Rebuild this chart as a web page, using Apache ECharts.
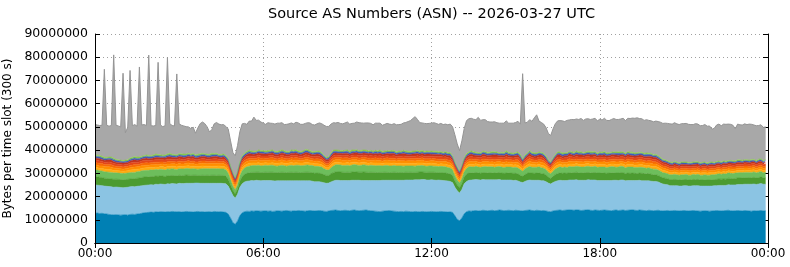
<!DOCTYPE html>
<html>
<head>
<meta charset="utf-8">
<script src="https://cdn.jsdelivr.net/npm/echarts@6/dist/echarts.min.js"></script>
<style>html,body{margin:0;padding:0;background:#fff}#c{width:790px;height:267px}</style>
</head>
<body>
<div id="c"></div>
<script>
// Time slots: 5-minute (300 s) slots; 289 category positions so that the last one is the closing 00:00
const slotLabels = Array.from({length: 289}, (_, i) => {
  const m = (i * 5) % 1440;
  return String(Math.floor(m / 60)).padStart(2, '0') + ':' + String(m % 60).padStart(2, '0');
});
const xTickLabels = ['00:00', '06:00', '12:00', '18:00', '00:00'];
const yTicks = [0, 10000000, 20000000, 30000000, 40000000, 50000000, 60000000, 70000000, 80000000, 90000000];
const UNIT = 1e6; // values below are in millions of bytes per slot

const darkBlue = [
12.8,12.9,12.7,12.8,12.6,12.5,12.3,12.2,12.1,12.2,12.1,12.0,
12.1,12.2,12.0,12.3,12.4,12.3,12.5,12.6,12.8,13.0,13.1,13.2,
13.3,13.2,13.4,13.3,13.5,13.4,13.3,13.5,13.4,13.6,13.5,13.4,
13.5,13.3,13.4,13.6,13.5,13.4,13.3,13.5,13.6,13.4,13.5,13.3,
13.4,13.5,13.3,13.6,13.5,13.4,13.5,13.3,13.2,12.5,10.8,8.8,
8.1,9.5,11.8,13.0,13.5,13.7,13.6,13.8,13.7,13.9,13.8,13.7,
13.8,13.9,13.7,13.8,13.6,13.7,13.9,13.8,13.7,13.9,14.0,13.8,
13.7,13.9,13.8,14.0,13.9,13.8,13.7,13.9,14.0,13.9,13.8,13.9,
14.0,13.9,13.7,13.6,13.8,14.0,14.1,14.2,14.0,13.9,14.0,14.1,
14.0,13.9,14.1,14.2,14.0,13.9,14.0,14.1,14.2,14.0,13.9,13.8,
13.7,13.6,13.5,13.7,13.8,13.9,14.0,13.8,13.7,13.6,13.5,13.6,
13.5,13.7,13.6,13.5,13.4,13.6,13.5,13.4,13.6,13.5,13.4,13.5,
13.6,13.5,13.4,13.5,13.6,13.5,13.4,13.3,13.4,13.2,11.8,10.2,
9.6,10.8,12.6,13.5,13.8,13.7,13.9,14.0,13.8,13.9,14.1,14.0,
13.9,14.0,14.1,13.9,14.0,14.2,14.1,13.9,14.0,14.1,14.0,13.9,
14.1,14.0,13.9,13.8,14.0,14.1,14.2,14.0,13.9,14.1,14.0,13.9,
14.0,13.8,13.6,13.5,13.8,14.0,14.1,14.2,14.0,14.1,14.2,14.3,
14.2,14.1,14.3,14.2,14.0,14.1,14.2,14.3,14.1,14.0,14.2,14.1,
14.0,14.1,14.2,14.1,14.0,13.9,14.1,14.2,14.0,14.1,14.2,14.0,
14.1,14.2,14.3,14.1,14.0,14.2,14.1,14.0,13.9,14.1,14.0,13.9,
14.0,14.1,13.9,13.8,13.9,14.0,13.8,13.9,14.0,13.9,13.8,13.9,
14.0,13.9,13.8,13.9,14.0,13.9,13.8,13.7,13.8,13.9,13.8,13.7,
13.8,13.9,14.0,13.9,13.8,13.9,14.0,14.1,13.9,13.8,13.9,14.0,
13.9,13.8,14.0,13.9,13.8,13.7,13.9,13.8,13.9,14.0,13.8,13.9];

const lightBlue = [
12.2,12.0,12.1,11.9,11.9,11.9,12.0,12.0,11.9,11.9,11.9,11.9,
11.7,11.7,12.0,11.9,11.9,11.9,11.9,11.9,11.8,11.8,11.8,11.8,
11.8,11.8,11.9,11.9,11.9,11.9,11.9,12.0,12.0,12.0,12.0,12.0,
12.2,12.3,12.2,12.1,12.2,12.3,12.4,12.3,12.2,12.3,12.2,12.4,
12.3,12.2,12.4,12.1,12.2,12.3,12.2,12.3,12.3,12.0,11.7,11.7,
11.2,11.5,12.2,12.5,12.8,12.9,13.1,13.1,13.1,13.1,13.1,13.1,
13.1,13.0,13.2,13.1,13.2,13.0,12.9,13.0,13.1,12.9,12.8,13.0,
13.1,12.9,13.0,12.8,12.9,13.0,13.1,12.9,12.8,12.7,12.6,12.5,
12.4,12.3,12.2,12.1,12.0,12.3,12.6,12.8,13.0,13.0,12.9,12.8,
12.9,13.0,12.9,12.8,13.0,13.1,12.9,12.8,12.7,12.9,13.0,13.1,
13.2,13.3,13.4,13.3,13.2,13.1,13.0,13.2,13.3,13.4,13.5,13.4,
13.5,13.4,13.5,13.6,13.7,13.6,13.7,13.8,13.7,13.8,13.7,13.6,
13.6,13.6,13.6,13.6,13.4,13.4,13.4,13.4,13.1,12.8,12.2,12.3,
11.9,12.2,12.9,13.0,13.2,13.4,13.3,13.3,13.4,13.2,13.2,13.2,
13.3,13.2,13.1,13.3,13.2,13.1,13.0,13.2,13.1,13.0,13.1,13.0,
12.9,12.7,12.4,12.2,12.5,12.8,12.9,13.0,13.1,12.9,13.0,12.9,
12.8,12.6,12.2,11.9,12.2,12.5,12.7,12.8,12.9,12.8,12.7,12.8,
12.9,13.0,12.9,12.8,13.0,12.9,12.8,12.9,13.0,13.1,12.9,12.8,
12.9,12.8,12.7,12.8,12.9,13.0,12.9,12.8,12.9,13.0,12.9,12.8,
12.8,12.7,12.6,12.8,12.9,12.8,12.7,12.8,12.9,12.7,12.6,12.6,
12.5,12.2,11.9,11.6,11.3,11.1,10.9,10.8,10.7,10.8,10.7,10.6,
10.7,10.8,10.7,10.6,10.7,10.8,10.9,10.8,10.7,10.6,10.7,10.8,
10.7,10.8,10.7,10.9,11.0,10.9,10.8,11.0,11.1,11.2,11.1,11.2,
11.3,11.4,11.3,11.4,11.5,11.6,11.5,11.4,11.5,11.6,11.5,11.4];

const darkGreen = [
3.6,3.6,3.5,3.5,3.4,3.4,3.4,3.4,3.4,3.4,3.4,3.4,
3.4,3.4,3.4,3.4,3.4,3.5,3.5,3.5,3.6,3.6,3.5,3.5,
3.5,3.6,3.5,3.5,3.6,3.5,3.4,3.5,3.6,3.5,3.5,3.4,
3.5,3.4,3.5,3.6,3.5,3.4,3.5,3.4,3.3,3.4,3.5,3.4,
3.5,3.4,3.5,3.5,3.4,3.5,3.4,3.5,3.3,3.0,2.6,2.1,
1.8,2.1,2.7,3.1,3.3,3.4,3.5,3.5,3.6,3.5,3.6,3.5,
3.5,3.6,3.5,3.6,3.7,3.6,3.5,3.6,3.7,3.6,3.5,3.6,
3.7,3.6,3.7,3.6,3.5,3.6,3.7,3.7,3.6,3.7,3.6,3.7,
3.6,3.7,3.5,3.4,3.3,3.5,3.6,3.7,3.6,3.7,3.6,3.5,
3.6,3.5,3.6,3.7,3.6,3.5,3.6,3.7,3.6,3.5,3.6,3.5,
3.5,3.4,3.5,3.4,3.5,3.4,3.3,3.4,3.5,3.4,3.3,3.4,
3.3,3.4,3.3,3.4,3.3,3.2,3.3,3.4,3.3,3.2,3.3,3.4,
3.3,3.4,3.3,3.2,3.3,3.4,3.3,3.2,3.3,3.1,2.8,2.5,
2.3,2.6,2.9,3.1,3.2,3.1,3.0,3.1,3.0,2.9,3.0,3.1,
3.0,3.1,3.0,2.9,3.0,3.1,3.0,2.9,3.0,3.1,3.0,3.1,
3.0,3.1,2.9,2.7,3.0,3.1,3.2,3.1,3.0,3.1,3.2,3.1,
3.0,2.9,2.6,2.4,2.7,3.0,3.1,3.2,3.1,3.2,3.1,3.2,
3.1,3.2,3.3,3.2,3.1,3.2,3.3,3.2,3.1,3.2,3.3,3.2,
3.2,3.3,3.2,3.1,3.2,3.3,3.2,3.1,3.2,3.3,3.2,3.1,
3.2,3.1,3.2,3.1,3.0,3.1,3.2,3.1,3.0,3.1,3.0,2.9,
2.9,2.8,2.8,2.7,2.7,2.6,2.6,2.6,2.7,2.6,2.6,2.7,
2.6,2.7,2.6,2.6,2.7,2.6,2.7,2.6,2.6,2.7,2.6,2.6,
2.7,2.6,2.7,2.8,2.7,2.8,2.7,2.8,2.8,2.7,2.8,2.8,
2.8,2.9,2.8,2.8,2.9,2.8,2.9,2.8,2.8,2.9,2.8,2.8];

const lightGreen = [
2.9,2.9,2.8,2.8,2.8,2.8,2.8,2.8,2.8,2.7,2.7,2.7,
2.7,2.7,2.7,2.7,2.7,2.7,2.8,2.8,2.9,2.8,2.9,2.8,
2.9,2.8,2.9,2.8,2.8,2.9,2.8,2.9,2.8,2.9,2.8,2.8,
2.8,2.9,2.8,2.8,2.9,2.8,2.8,2.7,2.7,2.8,2.8,2.9,
2.8,2.9,2.8,2.8,2.9,2.8,2.8,2.8,2.7,2.6,2.3,2.0,
1.8,2.0,2.4,2.6,2.7,2.8,2.9,2.9,3.0,2.9,3.0,2.9,
2.9,3.0,2.9,3.0,3.0,2.9,2.8,2.9,3.0,2.9,2.8,2.9,
3.0,2.9,3.0,3.1,3.0,2.9,3.0,3.1,3.0,3.1,3.0,2.9,
2.9,2.8,2.6,2.4,2.3,2.6,2.9,3.0,3.1,3.0,2.9,3.0,
3.0,2.9,3.0,3.1,3.0,2.9,3.0,3.1,3.0,2.9,3.0,3.0,
2.9,3.0,2.9,2.8,2.9,3.0,2.9,2.8,2.9,2.8,2.9,2.8,
2.8,2.7,2.8,2.7,2.8,2.7,2.8,2.7,2.8,2.7,2.6,2.7,
2.7,2.6,2.7,2.6,2.7,2.6,2.7,2.6,2.5,2.5,2.3,2.1,
2.0,2.2,2.4,2.5,2.6,2.6,2.5,2.6,2.5,2.6,2.5,2.6,
2.6,2.5,2.6,2.5,2.6,2.5,2.6,2.5,2.6,2.5,2.6,2.5,
2.6,2.5,2.4,2.2,2.4,2.5,2.6,2.5,2.6,2.5,2.6,2.5,
2.4,2.3,2.1,2.0,2.2,2.4,2.5,2.6,2.5,2.6,2.5,2.6,
2.6,2.5,2.6,2.7,2.6,2.5,2.6,2.7,2.6,2.5,2.6,2.5,
2.6,2.5,2.6,2.5,2.6,2.7,2.6,2.5,2.6,2.7,2.6,2.5,
2.6,2.7,2.6,2.5,2.6,2.5,2.6,2.5,2.4,2.5,2.4,2.4,
2.4,2.3,2.3,2.2,2.2,2.1,2.1,2.1,2.2,2.1,2.1,2.2,
2.1,2.2,2.1,2.1,2.2,2.1,2.2,2.1,2.1,2.2,2.1,2.1,
2.2,2.1,2.2,2.2,2.1,2.2,2.2,2.3,2.2,2.2,2.3,2.2,
2.3,2.2,2.3,2.3,2.2,2.3,2.3,2.2,2.3,2.3,2.2,2.3];

const yellowOrange = [
1.1,1.1,1.0,1.1,1.2,1.1,1.1,1.1,1.0,1.0,1.0,1.0,
1.0,1.0,1.0,1.1,1.1,1.2,1.1,1.1,1.0,1.1,1.1,1.2,
1.1,1.1,1.0,1.1,1.1,1.2,1.1,1.0,1.1,1.1,1.2,1.1,
1.1,1.0,1.1,1.1,1.2,1.1,1.1,1.0,1.1,1.1,1.2,1.1,
1.1,1.1,1.0,1.1,1.1,1.2,1.1,1.1,1.1,1.1,1.0,1.0,
0.9,1.0,1.0,1.1,1.1,1.1,1.2,1.1,1.1,1.0,1.1,1.1,
1.2,1.1,1.1,1.0,1.1,1.1,1.2,1.1,1.1,1.0,1.1,1.1,
1.2,1.1,1.1,1.0,1.1,1.1,1.2,1.1,1.1,1.0,1.1,1.1,
1.1,1.0,1.0,0.9,1.0,1.1,1.2,1.1,1.1,1.0,1.1,1.1,
1.2,1.1,1.1,1.0,1.1,1.1,1.2,1.1,1.1,1.0,1.1,1.1,
1.2,1.1,1.1,1.0,1.1,1.1,1.2,1.1,1.1,1.0,1.1,1.1,
1.2,1.1,1.1,1.0,1.1,1.1,1.2,1.1,1.1,1.0,1.1,1.1,
1.2,1.1,1.1,1.0,1.1,1.1,1.2,1.1,1.1,1.0,1.0,1.0,
0.9,1.0,1.0,1.1,1.1,1.1,1.2,1.1,1.1,1.0,1.1,1.1,
1.2,1.1,1.1,1.0,1.1,1.1,1.2,1.1,1.1,1.0,1.1,1.1,
1.1,1.2,1.1,0.9,1.0,1.1,1.2,1.1,1.1,1.0,1.1,1.1,
1.1,1.0,0.9,0.9,1.0,1.1,1.2,1.1,1.1,1.0,1.1,1.1,
1.2,1.1,1.1,1.0,1.1,1.1,1.2,1.1,1.1,1.0,1.1,1.1,
1.2,1.1,1.1,1.0,1.1,1.1,1.2,1.1,1.1,1.0,1.1,1.1,
1.2,1.1,1.1,1.0,1.1,1.1,1.2,1.1,1.1,1.0,1.1,1.1,
1.1,1.1,1.0,1.0,1.0,1.0,0.9,0.9,1.0,0.9,0.9,1.0,
0.9,0.9,1.0,0.9,0.9,1.0,0.9,0.9,1.0,0.9,0.9,1.0,
0.9,0.9,1.0,0.9,0.9,1.0,0.9,0.9,1.0,0.9,0.9,1.0,
0.9,0.9,1.0,0.9,0.9,1.0,0.9,0.9,1.0,0.9,0.9,1.0];

const orange = [
1.1,1.0,1.1,1.1,1.0,1.1,1.2,1.1,1.1,1.0,1.0,1.0,
0.9,1.0,1.0,1.0,1.1,1.1,1.0,1.1,1.2,1.1,1.1,1.0,
1.1,1.2,1.1,1.1,1.0,1.1,1.2,1.1,1.1,1.0,1.1,1.2,
1.1,1.1,1.0,1.1,1.2,1.1,1.1,1.0,1.1,1.2,1.1,1.1,
1.0,1.1,1.2,1.1,1.1,1.0,1.1,1.2,1.0,1.1,1.0,1.0,
0.9,1.0,1.0,1.1,1.1,1.2,1.1,1.1,1.0,1.1,1.2,1.1,
1.1,1.0,1.1,1.2,1.1,1.1,1.0,1.1,1.2,1.1,1.1,1.0,
1.1,1.2,1.1,1.1,1.0,1.1,1.2,1.1,1.1,1.0,1.1,1.2,
1.1,1.1,1.0,0.9,1.0,1.1,1.1,1.0,1.1,1.2,1.1,1.1,
1.0,1.1,1.2,1.1,1.1,1.0,1.1,1.2,1.1,1.1,1.0,1.1,
1.2,1.1,1.1,1.0,1.1,1.2,1.1,1.1,1.0,1.1,1.2,1.1,
1.1,1.0,1.1,1.2,1.1,1.1,1.0,1.1,1.2,1.1,1.1,1.0,
1.1,1.2,1.1,1.1,1.0,1.1,1.2,1.1,1.1,1.0,1.0,1.0,
0.9,1.0,1.0,1.1,1.1,1.2,1.1,1.1,1.0,1.1,1.2,1.1,
1.1,1.0,1.1,1.2,1.1,1.1,1.0,1.1,1.2,1.1,1.1,1.0,
1.1,1.2,1.1,0.9,1.0,1.1,1.2,1.1,1.1,1.0,1.1,1.2,
1.1,1.0,0.9,0.9,1.0,1.1,1.2,1.1,1.1,1.0,1.1,1.2,
1.1,1.1,1.0,1.1,1.2,1.1,1.1,1.0,1.1,1.2,1.1,1.1,
1.0,1.1,1.2,1.1,1.1,1.0,1.1,1.2,1.1,1.1,1.0,1.1,
1.2,1.1,1.1,1.0,1.1,1.2,1.1,1.1,1.0,1.1,1.2,1.1,
1.1,1.0,1.0,1.0,1.0,0.9,1.0,0.9,0.9,1.0,0.9,0.9,
1.0,0.9,0.9,1.0,0.9,0.9,1.0,0.9,0.9,1.0,0.9,0.9,
1.0,0.9,0.9,1.0,0.9,0.9,1.0,0.9,0.9,1.0,0.9,0.9,
1.0,0.9,0.9,1.0,0.9,0.9,1.0,0.9,0.9,1.0,0.9,0.9];

const darkOrange = [
1.0,1.0,1.1,1.0,0.9,1.0,1.0,1.1,1.0,0.9,0.9,0.9,
0.9,0.9,0.9,1.0,1.0,1.1,1.0,0.9,1.0,1.0,1.1,1.0,
0.9,1.0,1.0,1.1,1.0,0.9,1.0,1.0,1.1,1.0,0.9,1.0,
1.0,1.1,1.0,0.9,1.0,1.0,1.1,1.0,0.9,1.0,1.0,1.1,
1.0,0.9,1.0,1.0,1.1,1.0,0.9,1.0,0.9,1.0,0.9,0.9,
0.8,0.9,0.9,1.0,1.0,1.0,1.1,1.0,0.9,1.0,1.0,1.1,
1.0,0.9,1.0,1.0,1.1,1.0,0.9,1.0,1.0,1.1,1.0,0.9,
1.0,1.0,1.1,1.0,0.9,1.0,1.0,1.1,1.0,0.9,1.0,1.0,
1.1,1.0,0.9,0.8,0.9,1.0,1.1,1.0,0.9,1.0,1.0,1.1,
1.0,0.9,1.0,1.0,1.1,1.0,0.9,1.0,1.0,1.1,1.0,0.9,
1.0,1.0,1.1,1.0,0.9,1.0,1.0,1.1,1.0,0.9,1.0,1.0,
1.1,1.0,0.9,1.0,1.0,1.1,1.0,0.9,1.0,1.0,1.1,1.0,
0.9,1.0,1.0,1.1,1.0,0.9,1.0,1.0,1.1,0.9,0.9,0.9,
0.8,0.9,0.9,1.0,1.0,1.1,1.0,0.9,1.0,1.0,1.1,1.0,
0.9,1.0,1.0,1.1,1.0,0.9,1.0,1.0,1.1,1.0,0.9,1.0,
1.0,1.1,1.0,0.8,0.9,1.0,1.1,1.0,0.9,1.0,1.0,1.1,
1.0,0.9,0.8,0.8,0.9,1.0,1.1,1.0,0.9,1.0,1.0,1.1,
1.0,0.9,1.0,1.0,1.1,1.0,0.9,1.0,1.0,1.1,1.0,0.9,
1.0,1.0,1.1,1.0,0.9,1.0,1.0,1.1,1.0,0.9,1.0,1.0,
1.1,1.0,0.9,1.0,1.0,1.1,1.0,0.9,1.0,1.0,1.1,1.0,
1.0,1.0,0.9,0.9,0.9,0.9,0.9,0.8,0.9,0.9,0.8,0.9,
0.9,0.8,0.9,0.9,0.8,0.9,0.9,0.8,0.9,0.9,0.8,0.9,
0.9,0.8,0.9,0.9,0.8,0.9,0.9,0.8,0.9,0.9,0.8,0.9,
0.9,0.8,0.9,0.9,0.8,0.9,0.9,0.8,0.9,0.9,0.8,0.9];

const red = [
1.0,1.1,1.0,0.9,1.0,1.0,1.1,1.0,0.9,0.9,0.9,0.9,
0.9,0.9,0.9,1.0,1.1,1.0,0.9,1.0,1.0,1.1,1.0,0.9,
1.0,1.0,1.1,1.0,0.9,1.0,1.0,1.1,1.0,0.9,1.0,1.0,
1.1,1.0,0.9,1.0,1.0,1.1,1.0,0.9,1.0,1.0,1.1,1.0,
0.9,1.0,1.0,1.1,1.0,0.9,1.0,1.0,1.0,1.0,0.9,0.9,
0.8,0.9,0.9,1.0,1.0,1.1,1.0,0.9,1.0,1.0,1.1,1.0,
0.9,1.0,1.0,1.1,1.0,0.9,1.0,1.0,1.1,1.0,0.9,1.0,
1.0,1.1,1.0,0.9,1.0,1.0,1.1,1.0,0.9,1.0,1.0,1.1,
1.0,0.9,0.9,0.9,0.9,1.0,1.0,1.1,1.0,0.9,1.0,1.0,
1.1,1.0,0.9,1.0,1.0,1.1,1.0,0.9,1.0,1.0,1.1,1.0,
0.9,1.0,1.0,1.1,1.0,0.9,1.0,1.0,1.1,1.0,0.9,1.0,
1.0,1.1,1.0,0.9,1.0,1.0,1.1,1.0,0.9,1.0,1.0,1.1,
1.0,0.9,1.0,1.0,1.1,1.0,0.9,1.0,1.0,1.0,0.9,0.9,
0.8,0.9,0.9,1.0,1.0,1.1,1.0,0.9,1.0,1.0,1.1,1.0,
0.9,1.0,1.0,1.1,1.0,0.9,1.0,1.0,1.1,1.0,0.9,1.0,
1.0,1.1,1.0,0.8,1.0,1.0,1.1,1.0,0.9,1.0,1.0,1.1,
1.0,0.9,0.8,0.8,0.9,1.0,1.1,1.0,0.9,1.0,1.0,1.1,
1.0,1.0,1.1,1.0,0.9,1.0,1.0,1.1,1.0,0.9,1.0,1.0,
1.1,1.0,0.9,1.0,1.0,1.1,1.0,0.9,1.0,1.0,1.1,1.0,
0.9,1.0,1.0,1.1,1.0,0.9,1.0,1.0,1.1,1.0,0.9,1.0,
1.0,0.9,1.0,0.9,0.9,0.9,0.8,0.9,0.9,0.8,0.9,0.9,
0.8,0.9,0.9,0.8,0.9,0.9,0.8,0.9,0.9,0.8,0.9,0.9,
0.8,0.9,0.9,0.8,0.9,0.9,0.8,0.9,0.9,0.8,0.9,0.9,
0.8,0.9,0.9,0.8,0.9,0.9,0.8,0.9,0.9,0.8,0.9,0.9];

const darkRed = [
0.9,0.9,1.0,0.9,0.8,0.9,0.9,1.0,0.9,0.8,0.8,0.8,
0.8,0.8,0.8,0.9,0.9,1.0,0.9,0.8,0.9,0.9,1.0,0.9,
0.8,0.9,0.9,1.0,0.9,0.8,0.9,0.9,1.0,0.9,0.8,0.9,
0.9,1.0,0.9,0.8,0.9,0.9,1.0,0.9,0.8,0.9,0.9,1.0,
0.9,0.8,0.9,0.9,1.0,0.9,0.8,0.9,0.9,0.9,0.8,0.8,
0.7,0.8,0.8,0.9,0.9,0.9,1.0,0.9,0.8,0.9,0.9,1.0,
0.9,0.8,0.9,0.9,1.0,0.9,0.8,0.9,0.9,1.0,0.9,0.8,
0.9,0.9,1.0,0.9,0.8,0.9,0.9,1.0,0.9,0.8,0.9,0.9,
1.0,0.9,0.8,0.8,0.8,0.9,1.0,0.9,0.8,0.9,0.9,1.0,
0.9,0.8,0.9,0.9,1.0,0.9,0.8,0.9,0.9,1.0,0.9,0.8,
0.9,0.9,1.0,0.9,0.8,0.9,0.9,1.0,0.9,0.8,0.9,0.9,
1.0,0.9,0.8,0.9,0.9,1.0,0.9,0.8,0.9,0.9,1.0,0.9,
0.8,0.9,0.9,1.0,0.9,0.8,0.9,0.9,1.0,0.8,0.8,0.8,
0.7,0.8,0.8,0.9,0.9,1.0,0.9,0.8,0.9,0.9,1.0,0.9,
0.8,0.9,0.9,1.0,0.9,0.8,0.9,0.9,1.0,0.9,0.8,0.9,
0.9,1.0,0.9,0.7,0.8,0.9,1.0,0.9,0.8,0.9,0.9,1.0,
0.9,0.8,0.7,0.7,0.8,0.9,1.0,0.9,0.8,0.9,0.9,1.0,
0.9,0.8,0.9,0.9,1.0,0.9,0.8,0.9,0.9,1.0,0.9,0.8,
0.9,0.9,1.0,0.9,0.8,0.9,0.9,1.0,0.9,0.8,0.9,0.9,
1.0,0.9,0.8,0.9,0.9,1.0,0.9,0.8,0.9,0.9,1.0,0.9,
0.9,0.9,0.8,0.8,0.8,0.8,0.8,0.7,0.8,0.8,0.7,0.8,
0.8,0.7,0.8,0.8,0.7,0.8,0.8,0.7,0.8,0.8,0.7,0.8,
0.8,0.7,0.8,0.8,0.7,0.8,0.8,0.7,0.8,0.8,0.7,0.8,
0.8,0.7,0.8,0.8,0.7,0.8,0.8,0.7,0.8,0.8,0.7,0.8];

const blue = [
0.7,0.7,0.8,0.7,0.7,0.6,0.7,0.7,0.8,0.7,0.6,0.6,
0.6,0.6,0.6,0.7,0.7,0.8,0.7,0.7,0.6,0.7,0.7,0.8,
0.7,0.7,0.8,0.7,0.7,0.6,0.7,0.7,0.8,0.7,0.7,0.6,
0.7,0.7,0.8,0.7,0.7,0.6,0.7,0.7,0.8,0.7,0.7,0.6,
0.7,0.7,0.8,0.7,0.7,0.6,0.7,0.7,0.7,0.7,0.6,0.6,
0.6,0.6,0.7,0.7,0.7,0.7,0.8,0.7,0.7,0.6,0.7,0.7,
0.8,0.7,0.7,0.6,0.7,0.7,0.8,0.7,0.7,0.6,0.7,0.7,
0.8,0.7,0.7,0.6,0.7,0.7,0.8,0.7,0.7,0.6,0.7,0.7,
0.8,0.7,0.6,0.6,0.6,0.7,0.8,0.7,0.7,0.6,0.7,0.7,
0.8,0.7,0.7,0.6,0.7,0.7,0.8,0.7,0.7,0.6,0.7,0.7,
0.8,0.7,0.7,0.6,0.7,0.7,0.8,0.7,0.7,0.6,0.7,0.7,
0.8,0.7,0.7,0.6,0.7,0.7,0.8,0.7,0.7,0.6,0.7,0.7,
0.8,0.7,0.7,0.6,0.7,0.7,0.8,0.7,0.7,0.7,0.6,0.6,
0.6,0.6,0.7,0.7,0.7,0.8,0.7,0.7,0.6,0.7,0.7,0.8,
0.7,0.7,0.8,0.7,0.7,0.6,0.7,0.7,0.8,0.7,0.7,0.6,
0.7,0.7,0.8,0.6,0.7,0.6,0.7,0.7,0.8,0.7,0.7,0.6,
0.7,0.7,0.6,0.6,0.6,0.6,0.7,0.7,0.8,0.7,0.7,0.6,
0.7,0.7,0.8,0.7,0.7,0.6,0.7,0.7,0.8,0.7,0.7,0.6,
0.7,0.7,0.8,0.7,0.7,0.6,0.7,0.7,0.8,0.7,0.7,0.6,
0.7,0.7,0.8,0.7,0.7,0.6,0.7,0.7,0.8,0.7,0.7,0.6,
0.7,0.7,0.7,0.6,0.6,0.6,0.6,0.6,0.6,0.5,0.6,0.6,
0.6,0.6,0.5,0.6,0.6,0.6,0.5,0.6,0.6,0.6,0.5,0.6,
0.6,0.6,0.5,0.6,0.6,0.6,0.5,0.6,0.6,0.6,0.5,0.6,
0.6,0.6,0.5,0.6,0.6,0.6,0.5,0.6,0.6,0.6,0.5,0.6];

const yellowGreen = [
0.6,0.6,0.6,0.7,0.6,0.6,0.5,0.6,0.6,0.5,0.5,0.5,
0.5,0.5,0.5,0.6,0.6,0.6,0.7,0.6,0.6,0.5,0.6,0.6,
0.6,0.6,0.7,0.6,0.6,0.5,0.6,0.6,0.7,0.6,0.6,0.5,
0.6,0.6,0.7,0.6,0.6,0.5,0.6,0.6,0.7,0.6,0.6,0.5,
0.6,0.6,0.7,0.6,0.6,0.5,0.6,0.6,0.6,0.6,0.5,0.5,
0.5,0.5,0.6,0.6,0.6,0.6,0.7,0.6,0.6,0.5,0.6,0.6,
0.6,0.6,0.7,0.6,0.6,0.5,0.6,0.6,0.7,0.6,0.6,0.5,
0.6,0.6,0.7,0.6,0.6,0.5,0.6,0.6,0.7,0.6,0.6,0.5,
0.6,0.6,0.5,0.5,0.5,0.6,0.6,0.6,0.7,0.6,0.6,0.5,
0.6,0.6,0.7,0.6,0.6,0.5,0.6,0.6,0.7,0.6,0.6,0.5,
0.6,0.6,0.7,0.6,0.6,0.5,0.6,0.6,0.7,0.6,0.6,0.5,
0.6,0.6,0.7,0.6,0.6,0.5,0.6,0.6,0.7,0.6,0.6,0.5,
0.6,0.6,0.7,0.6,0.6,0.5,0.6,0.6,0.7,0.6,0.5,0.5,
0.5,0.5,0.6,0.6,0.6,0.6,0.7,0.6,0.6,0.5,0.6,0.6,
0.6,0.6,0.7,0.6,0.6,0.5,0.6,0.6,0.7,0.6,0.6,0.5,
0.6,0.6,0.7,0.5,0.6,0.5,0.6,0.6,0.7,0.6,0.6,0.5,
0.6,0.6,0.5,0.5,0.5,0.5,0.6,0.6,0.7,0.6,0.6,0.5,
0.6,0.6,0.7,0.6,0.6,0.5,0.6,0.6,0.7,0.6,0.6,0.5,
0.6,0.6,0.7,0.6,0.6,0.5,0.6,0.6,0.7,0.6,0.6,0.5,
0.6,0.6,0.7,0.6,0.6,0.5,0.6,0.6,0.7,0.6,0.6,0.5,
0.6,0.6,0.6,0.5,0.5,0.5,0.5,0.5,0.5,0.5,0.5,0.5,
0.5,0.5,0.5,0.5,0.5,0.5,0.5,0.5,0.5,0.5,0.5,0.5,
0.5,0.5,0.5,0.5,0.5,0.5,0.5,0.5,0.5,0.5,0.5,0.5,
0.5,0.5,0.5,0.5,0.5,0.5,0.5,0.5,0.5,0.5,0.5,0.5];

const others = [
13.1,13.0,12.9,13.3,37.9,13.8,13.3,13.6,44.5,14.7,14.6,14.3,
37.6,11.8,14.0,37.7,13.6,13.8,13.3,38.8,13.4,13.4,12.7,43.2,
12.8,12.5,12.3,39.7,12.8,12.3,12.6,41.6,12.8,12.4,12.3,34.9,
12.8,12.3,12.1,11.8,11.3,11.1,11.3,9.3,11.3,13.0,13.5,13.0,
11.8,9.6,10.3,12.8,13.3,13.1,12.8,12.6,12.5,12.6,10.9,8.7,
9.4,11.2,13.0,13.7,12.8,11.7,12.5,12.9,14.7,13.3,12.8,12.3,
11.8,11.5,12.0,11.7,11.4,11.8,12.2,11.9,11.6,11.3,11.7,12.0,
11.6,11.4,11.8,12.1,11.7,11.5,11.2,11.6,11.9,11.7,11.4,11.8,
12.1,12.5,13.0,13.3,13.1,12.4,11.8,11.6,11.9,11.7,11.5,11.8,
12.0,11.7,11.4,11.6,11.9,12.1,11.8,11.5,11.7,12.0,11.6,11.4,
11.7,11.9,11.6,11.3,11.5,11.8,11.4,11.2,11.5,11.7,11.4,11.6,
11.8,12.3,12.8,13.3,14.0,14.8,13.3,12.3,11.8,12.1,11.8,12.0,
12.0,12.3,12.0,11.8,12.1,12.0,11.8,12.0,12.2,12.5,11.8,9.9,
8.8,10.5,12.6,14.2,14.3,14.0,14.0,14.0,15.2,14.0,13.5,13.7,
13.3,13.0,12.7,12.9,12.6,12.8,12.5,12.7,12.9,12.6,12.8,13.0,
12.9,13.2,13.0,36.8,13.8,13.3,13.3,13.4,15.0,16.4,13.3,12.9,
12.6,12.2,11.5,11.3,12.5,13.3,13.3,13.5,13.8,13.4,13.9,13.5,
13.9,14.1,13.7,14.0,14.3,13.9,14.2,14.0,13.8,14.1,14.3,14.0,
14.1,13.9,14.2,14.0,13.8,14.1,14.3,14.0,13.9,14.2,14.4,14.1,
14.3,14.5,14.7,14.9,15.0,14.6,14.4,14.2,14.3,14.1,14.0,14.2,
14.3,14.7,15.1,15.5,15.8,16.1,16.4,16.5,16.6,16.5,16.5,16.4,
16.5,16.6,16.4,16.3,16.1,16.4,16.2,16.0,15.8,16.1,15.9,15.6,
14.1,14.7,15.7,15.9,15.6,15.8,16.0,15.7,15.5,15.3,13.9,15.4,
15.1,15.2,15.4,15.1,15.5,15.1,14.8,15.0,14.5,14.6,14.3,14.0];

const layers = [
  {name: 'AS-1', values: darkBlue,     color: '#0080b4'},
  {name: 'AS-2', values: lightBlue,    color: '#8bc4e3'},
  {name: 'AS-3', values: darkGreen,    color: '#4c9b30'},
  {name: 'AS-4', values: lightGreen,   color: '#6dbe5c'},
  {name: 'AS-5', values: yellowOrange, color: '#ffab12'},
  {name: 'AS-6', values: orange,       color: '#ff8e00'},
  {name: 'AS-7', values: darkOrange,   color: '#f66a06'},
  {name: 'AS-8', values: red,          color: '#e2461a'},
  {name: 'AS-9', values: darkRed,      color: '#bf3320'},
  {name: 'AS-10', values: blue,        color: '#3a5fbf'},
  {name: 'AS-11', values: yellowGreen, color: '#88cb46'},
  {name: 'Others', values: others,     color: '#a8a8a8', line: '#949494'}
];

const FONT = 'DejaVu Sans';
const chart = echarts.init(document.getElementById('c'), null, {renderer: 'canvas'});
const series = layers.map(l => ({
  name: l.name,
  type: 'line',
  stack: 'total',
  xAxisIndex: 0,
  yAxisIndex: 0,
  showSymbol: false,
  symbol: 'none',
  silent: true,
  z: 2,
  lineStyle: {width: l.line ? 1 : 0.6, color: l.line || l.color},
  areaStyle: {color: l.color, opacity: 1},
  data: l.values.map(v => v * UNIT)
}));

const isTickIdx = i => i % 72 === 0;
const tickStyle = {show: true, inside: true, length: 5, interval: (i) => isTickIdx(i), lineStyle: {color: '#000', width: 1}};
const yTickStyle = {show: true, inside: true, length: 5, lineStyle: {color: '#000', width: 1}};
const lineStyleAxis = {show: true, lineStyle: {color: '#000', width: 1}};
const gridLineX = {show: true, interval: (i) => isTickIdx(i), lineStyle: {color: '#a0a0a0', width: 1, type: [1, 3]}};
const gridLineY = {show: true, lineStyle: {color: '#a0a0a0', width: 1, type: [1, 3]}};

chart.setOption({
  animation: false,
  backgroundColor: '#fff',
  title: {
    text: 'Source AS Numbers (ASN) -- 2026-03-27 UTC',
    left: 426.5, top: 2, textAlign: 'center',
    textStyle: {fontFamily: FONT, fontSize: 14.5, fontWeight: 'normal', color: '#000'}
  },
  grid: {left: 95, right: 22, top: 34, bottom: 24, containLabel: false, outerBoundsMode: 'none'},
  xAxis: [
    {type: 'category', data: slotLabels, boundaryGap: false, position: 'bottom', z: 10,
     axisLine: lineStyleAxis, axisTick: tickStyle, splitLine: {show: false},
     axisLabel: {fontFamily: FONT, fontSize: 12, color: '#000', margin: 5,
       interval: (i) => isTickIdx(i),
       formatter: (v, i) => xTickLabels[Math.round(i / 72)]}},
    {type: 'category', data: slotLabels, boundaryGap: false, position: 'top', z: 0,
     axisLine: lineStyleAxis, axisTick: tickStyle, splitLine: gridLineX, axisLabel: {show: false}}
  ],
  yAxis: [
    {type: 'value', position: 'left', min: 0, max: 90000000, interval: 10000000, z: 10,
     name: 'Bytes per time slot (300 s)', nameLocation: 'middle', nameGap: 73, nameRotate: 90,
     nameTextStyle: {fontFamily: FONT, fontSize: 12, color: '#000'},
     axisLine: lineStyleAxis, axisTick: yTickStyle, splitLine: {show: false},
     axisLabel: {fontFamily: FONT, fontSize: 12.5, color: '#000', margin: 7,
       formatter: v => String(yTicks[Math.round(v / 10000000)])}},
    {type: 'value', position: 'right', min: 0, max: 90000000, interval: 10000000, z: 0,
     axisLine: lineStyleAxis, axisTick: yTickStyle, splitLine: gridLineY, axisLabel: {show: false}}
  ],
  series: series
});
</script>
</body>
</html>
